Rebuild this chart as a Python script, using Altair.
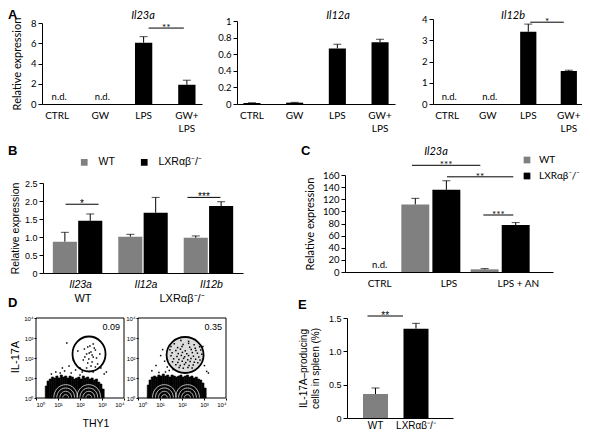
import altair as alt
import pandas as pd

# ------------------------------------------------------------------ data
A_CATS = ["CTRL", "GW", "LPS", "GW+LPS"]
A_IL23A = [0.0, 0.0, 6.05, 1.9]
A_IL23A_ERR = [0.0, 0.0, 0.6, 0.45]
A_IL23A_ND = ["n.d.", "n.d.", "", ""]
A_IL12A = [0.012, 0.016, 0.67, 0.745]
A_IL12A_ERR = [0.003, 0.004, 0.05, 0.035]
A_IL12A_ND = ["", "", "", ""]
A_IL12B = [0.0, 0.0, 3.4, 1.55]
A_IL12B_ERR = [0.0, 0.0, 0.36, 0.04]
A_IL12B_ND = ["n.d.", "n.d.", "", ""]
A_IL23A_SIG = ["LPS", "GW+LPS", 7.5, "**"]
A_IL12B_SIG = ["LPS", "GW+LPS", 3.85, "*"]

SERIES = ["WT", "LXRαβ⁻/⁻"]

B_GENES = ["Il23a", "Il12a", "Il12b"]
B_WT = [0.87, 1.01, 0.98]
B_WT_ERR = [0.26, 0.065, 0.05]
B_KO = [1.45, 1.675, 1.86]
B_KO_ERR = [0.19, 0.425, 0.12]
B_SIG_IL23A = ["Il23a", "Il23a", 1.91, "*"]
B_SIG_IL12B = ["Il12b", "Il12b", 2.10, "***"]

C_CATS = ["CTRL", "LPS", "LPS + AN"]
C_WT = [0.0, 111.5, 4.4]
C_WT_ERR = [0.0, 10.0, 1.2]
C_KO = [0.0, 135.5, 77.5]
C_KO_ERR = [0.0, 15.0, 4.0]
C_ND = ["n.d.", "", ""]
C_SIG_1 = ["LPS", "LPS + AN", 176.0, "***"]
C_SIG_2 = ["LPS", "LPS + AN", 157.0, "**"]
C_SIG_3 = ["LPS + AN", "LPS + AN", 94.0, "***"]

DECADES = [1, 10, 100, 1000, 10000]
# flow cytometry (log10 THY1, log10 IL-17A)
D_WT_DOTS = [(1.4, 2.75), (1.9, 2.35), (1.7, 1.9), (1.5, 1.6), (2.0, 1.5), (1.2, 1.5),
             (2.15, 1.9), (2.3, 2.2), (2.4, 1.95), (2.5, 2.3), (2.6, 2.05), (2.45, 2.6),
             (2.7, 2.4), (2.35, 1.75), (2.55, 1.8), (2.75, 2.0), (2.2, 2.45), (2.6, 2.7),
             (2.5, 1.6), (2.8, 1.7), (2.3, 1.5), (2.9, 2.2), (2.65, 2.5), (2.42, 2.25),
             (2.1, 1.3), (1.8, 1.4), (0.9, 1.3), (1.1, 1.25), (2.6, 1.3), (2.95, 1.5),
             (3.1, 1.2), (2.7, 1.55), (2.22, 2.05), (2.55, 2.15), (2.35, 2.55), (1.6, 1.25),
             (1.3, 1.35), (0.7, 1.2), (3.2, 1.3), (2.0, 1.15)]
D_KO_DOTS = [(1.95, 2.87), (2.3, 2.83), (1.65, 2.71), (2.05, 2.68), (2.3, 2.73), (2.55, 2.66),
             (1.5, 2.57), (1.8, 2.52), (2.0, 2.58), (2.35, 2.54), (2.6, 2.49), (2.8, 2.56),
             (1.45, 2.41), (1.72, 2.38), (1.93, 2.44), (2.15, 2.36), (2.42, 2.42), (2.63, 2.37),
             (2.85, 2.4), (1.55, 2.26), (1.83, 2.22), (2.02, 2.28), (2.22, 2.21), (2.47, 2.27),
             (2.7, 2.24), (2.9, 2.19), (1.5, 2.11), (1.77, 2.08), (1.97, 2.13), (2.12, 2.06),
             (2.3, 2.12), (2.52, 2.09), (2.76, 2.05), (1.62, 1.96), (1.86, 1.93), (2.07, 1.98),
             (2.26, 1.91), (2.41, 1.97), (2.62, 1.94), (2.82, 1.9), (1.57, 1.81), (1.81, 1.78),
             (2.01, 1.84), (2.17, 1.77), (2.37, 1.82), (2.56, 1.79), (2.72, 1.76), (1.72, 1.66),
             (1.92, 1.63), (2.11, 1.68), (2.32, 1.62), (2.51, 1.65), (1.87, 1.52), (2.06, 1.49),
             (2.27, 1.53), (2.46, 1.5), (1.03, 2.12), (1.21, 1.84), (0.82, 1.62), (1.33, 1.55),
             (1.12, 2.42), (1.42, 1.38), (0.63, 1.36), (3.02, 1.62), (3.12, 1.33), (2.95, 2.58),
             (1.25, 1.3), (0.95, 1.28), (3.2, 1.25), (1.6, 1.42)]
D_WT_EDGE_LX = [0.42, 0.5, 0.6, 0.7, 0.8, 0.9, 1.0, 1.1, 1.2, 1.3, 1.4, 1.5, 1.6, 1.7, 1.8, 1.9, 2.0,
                2.1, 2.2, 2.3, 2.4, 2.5, 2.6, 2.7, 2.8, 2.9, 3.0, 3.1]
D_WT_EDGE_LY = [0.6, 0.85, 0.95, 1.05, 1.0, 1.1, 1.0, 1.15, 1.05, 1.1, 1.0, 1.1, 1.05, 0.95, 1.0,
                1.05, 0.95, 1.1, 1.0, 1.05, 0.95, 1.0, 0.9, 0.95, 0.8, 0.7, 0.45]
D_KO_EDGE_LX = [0.42, 0.5, 0.6, 0.7, 0.8, 0.9, 1.0, 1.1, 1.2, 1.3, 1.4, 1.5, 1.6, 1.7, 1.8, 1.9, 2.0,
                2.1, 2.2, 2.3, 2.4, 2.5, 2.6, 2.7, 2.8, 2.9, 3.0, 3.1]
D_KO_EDGE_LY = [0.65, 0.9, 1.05, 1.1, 1.05, 1.15, 1.1, 1.2, 1.1, 1.15, 1.05, 1.15, 1.1, 1.05, 1.1,
                1.15, 1.05, 1.1, 1.15, 1.05, 1.1, 1.0, 1.05, 0.95, 0.9, 0.75, 0.5]
D_WT_GATE = (2.41, 2.2)
D_KO_GATE = (2.14, 2.15)
D_WT_CONTOURS = [1.35, 2.4]
D_KO_CONTOURS = [1.2, 2.25]
D_PCT = ["0.09", "0.35"]

E_CATS = SERIES
E_VAL = [0.36, 1.34]
E_ERR = [0.09, 0.08]
E_SIG = ["WT", "LXRαβ⁻/⁻", 1.53, "**"]

# ------------------------------------------------------------------ style
W, H = 574, 421
XL = "Lato"
GP = "Liberation Sans"
GREY = "#808080"


def cx(v):
    return v - 8


def cy(v):
    return v - 8


def one(text):
    return alt.Chart(alt.Data(values=[{"t": text}]))


def label(text, x, y, font, size, style="normal", weight="normal", align="center", angle=0):
    return one(text).mark_text(font=font, fontSize=size, fontStyle=style, fontWeight=weight,
                               align=align, baseline="middle", angle=angle, color="black").encode(
        x=alt.value(cx(x)), y=alt.value(cy(y)), text="t:N")


def sig_marks(sig, xs, xax, ys, yax, font, x_off, x2_off, text_dx, size=10):
    d = pd.DataFrame({"a": [sig[0]], "b": [sig[1]], "y": [sig[2]], "lab": [sig[3]]})
    X = alt.X("a:N", scale=xs, axis=xax)
    Y = alt.Y("y:Q", scale=ys, axis=yax)
    rule = alt.Chart(d).mark_rule(color="black", strokeWidth=1, xOffset=x_off, x2Offset=x2_off).encode(
        x=X, x2="b:N", y=Y)
    txt = alt.Chart(d).mark_text(font=font, fontSize=size, baseline="alphabetic", dx=text_dx, dy=3,
                                 color="black").encode(x=X, y=Y, text="lab:N")
    return [rule, txt]


def y_axis(x_img, font, size, values, title=None, fmt=None, expr=None, tpad=6, tsize=11):
    kw = dict(orient="left", offset=-cx(x_img), values=values, grid=False, tickSize=4,
              tickColor="black", domainColor="black", labelColor="black", labelFont=font,
              labelFontSize=size, labelPadding=2, title=title, titleFont=font,
              titleFontSize=tsize, titleFontWeight="normal", titleColor="black",
              titlePadding=tpad)
    if fmt:
        kw["format"] = fmt
    if expr:
        kw["labelExpr"] = expr
    return alt.Axis(**kw)


def x_axis(y_img, font, size, pad=5, **extra):
    return alt.Axis(orient="bottom", offset=cy(y_img) - H, title=None, ticks=False, grid=False,
                    labelAngle=0, domainColor="black", labelColor="black", labelFont=font,
                    labelFontSize=size, labelPadding=pad, **extra)


# ------------------------------------------------------------------ panel A
def panel_a(vals, errs, nd, sig, ax, width, y_top, ymax, yvals, ytitle, sig_off):
    df = pd.DataFrame({"cat": A_CATS, "val": vals,
                       "top": [v + e for v, e in zip(vals, errs)],
                       "nd": nd, "has_err": [e > 0 for e in errs]})
    xs = alt.Scale(domain=A_CATS, range=[cx(ax), cx(ax + width)], paddingInner=0.6, paddingOuter=0.15)
    step = width / 3.7
    xax = x_axis(104, XL, 10, pad=6, labelLineHeight=13,
                 labelExpr="datum.label == 'GW+LPS' ? ['GW+', 'LPS'] : datum.label")
    ys = alt.Scale(domain=[0, ymax], range=[cy(104), cy(y_top)], nice=False, zero=True)
    yax = y_axis(ax, XL, 9.5, yvals, title=ytitle, fmt="~g", tpad=8)
    X = alt.X("cat:N", scale=xs, axis=xax)
    base = alt.Chart(df)
    layers = [
        base.mark_bar(color="black").encode(x=X, y=alt.Y("val:Q", scale=ys, axis=yax)),
        base.transform_filter("datum.has_err").mark_rule(color="black", strokeWidth=1).encode(
            x=X, y=alt.Y("val:Q", scale=ys, axis=yax), y2="top:Q"),
        base.transform_filter("datum.has_err").mark_tick(color="black", orient="horizontal", size=8,
                                                         thickness=1).encode(
            x=X, y=alt.Y("top:Q", scale=ys, axis=yax)),
        base.mark_text(font=XL, fontSize=9.5, dy=-7, dx=2, color="black").encode(
            x=X, y=alt.Y("val:Q", scale=ys, axis=yax), text="nd:N"),
    ]
    if sig:
        layers += sig_marks(sig, xs, xax, ys, yax, XL, sig_off[0], sig_off[1],
                            step / 2 + (sig_off[0] + sig_off[1]) / 2)
    return alt.layer(*layers)


# ------------------------------------------------------------------ grouped panels
def long_df(cats, wt, wt_err, ko, ko_err):
    rows = []
    for series, vals, errs in ((SERIES[0], wt, wt_err), (SERIES[1], ko, ko_err)):
        for c, v, e in zip(cats, vals, errs):
            rows.append({"cat": c, "series": series, "val": v, "top": v + e, "has_err": e > 0})
    return pd.DataFrame(rows)


def grouped_layers(df, X, Y, Ytop, XO, color):
    base = alt.Chart(df)
    return [
        base.mark_bar().encode(x=X, xOffset=XO, y=Y, color=color),
        base.transform_filter("datum.has_err").mark_rule(color="black", strokeWidth=1).encode(
            x=X, xOffset=XO, y=Y, y2="top:Q"),
        base.transform_filter("datum.has_err").mark_tick(color="black", orient="horizontal",
                                                         size=8, thickness=1).encode(
            x=X, xOffset=XO, y=Ytop),
    ]


def panel_b():
    df = long_df(B_GENES, B_WT, B_WT_ERR, B_KO, B_KO_ERR)
    xs = alt.Scale(domain=B_GENES, range=[cx(43), cx(243)], paddingInner=0.244, paddingOuter=0.15)
    xax = x_axis(273, GP, 10.5, pad=6, labelFontStyle="italic", labelOffset=3)
    ys = alt.Scale(domain=[0, 2.5], range=[cy(273), cy(183)], nice=False)
    yax = y_axis(43, GP, 9, [0, 0.5, 1, 1.5, 2, 2.5], title="Relative expression",
                 expr="datum.value == 0 ? '0' : format(datum.value, '.1f')", tpad=4, tsize=10.5)
    X = alt.X("cat:N", scale=xs, axis=xax)
    XO = alt.XOffset("series:N", scale=alt.Scale(domain=SERIES, paddingInner=0.05))
    color = alt.Color("series:N", scale=alt.Scale(domain=SERIES, range=[GREY, "black"]),
                      legend=alt.Legend(orient="none", legendX=cx(79), legendY=cy(157),
                                        direction="horizontal", title=None, symbolType="square",
                                        symbolSize=45, symbolStrokeWidth=0, labelFont=GP,
                                        labelFontSize=10.5, labelColor="black", columnPadding=24,
                                        labelOffset=9))
    layers = grouped_layers(df, X, alt.Y("val:Q", scale=ys, axis=yax),
                            alt.Y("top:Q", scale=ys, axis=yax), XO, color)
    layers += sig_marks(B_SIG_IL23A, xs, xax, ys, yax, GP, -12, 21, 4.5)
    layers += sig_marks(B_SIG_IL12B, xs, xax, ys, yax, GP, -21, 12, -4.5)
    return alt.layer(*layers)


def panel_c():
    df = long_df(C_CATS, C_WT, C_WT_ERR, C_KO, C_KO_ERR)
    df["nd"] = [n for n in C_ND] + ["", "", ""]
    xs = alt.Scale(domain=C_CATS, range=[cx(345), cx(553)], paddingInner=0, paddingOuter=0)
    xax = x_axis(272, XL, 10, pad=6)
    ys = alt.Scale(domain=[0, 160], range=[cy(272), cy(175)], nice=False)
    yax = y_axis(345, XL, 9.5, list(range(0, 161, 20)), title="Relative expression", tpad=7)
    X = alt.X("cat:N", scale=xs, axis=xax)
    XO = alt.XOffset("series:N", scale=alt.Scale(domain=SERIES, range=[-13, 46], paddingInner=0.1))
    color = alt.Color("series:N", scale=alt.Scale(domain=SERIES, range=[GREY, "black"]),
                      legend=alt.Legend(orient="none", legendX=cx(522), legendY=cy(155),
                                        direction="vertical", title=None, symbolType="square",
                                        symbolSize=45, symbolStrokeWidth=0, labelFont=XL,
                                        labelFontSize=10, labelColor="black", rowPadding=6,
                                        labelOffset=7))
    layers = grouped_layers(df, X, alt.Y("val:Q", scale=ys, axis=yax),
                            alt.Y("top:Q", scale=ys, axis=yax), XO, color)
    layers.append(alt.Chart(df).mark_text(font=XL, fontSize=9.5, dy=-7, color="black").encode(
        x=X, y=alt.Y("val:Q", scale=ys, axis=yax), text="nd:N"))
    layers += sig_marks(C_SIG_1, xs, xax, ys, yax, XL, -37, -38, -3)
    layers += sig_marks(C_SIG_2, xs, xax, ys, yax, XL, -2, -5, 31)
    layers += sig_marks(C_SIG_3, xs, xax, ys, yax, XL, -35, -5, -20)
    return alt.layer(*layers)


def panel_e():
    df = pd.DataFrame({"cat": E_CATS, "val": E_VAL,
                       "top": [v + e for v, e in zip(E_VAL, E_ERR)]})
    xs = alt.Scale(domain=E_CATS, range=[cx(347), cx(453)], paddingInner=0.383, paddingOuter=0.5,
                   align=0.395)
    xax = x_axis(418, GP, 10, pad=2)
    ys = alt.Scale(domain=[0, 1.5], range=[cy(418), cy(318)], nice=False)
    yax = y_axis(347, GP, 9, [0, 0.5, 1, 1.5], title=["IL-17A–producing", "cells in spleen (%)"],
                 expr="datum.value == 0 ? '0' : format(datum.value, '.1f')", tpad=8, tsize=10)
    X = alt.X("cat:N", scale=xs, axis=xax)
    color = alt.Color("cat:N", scale=alt.Scale(domain=E_CATS, range=[GREY, "black"]), legend=None)
    base = alt.Chart(df)
    layers = [
        base.mark_bar().encode(x=X, y=alt.Y("val:Q", scale=ys, axis=yax), color=color),
        base.mark_rule(color="black", strokeWidth=1).encode(
            x=X, y=alt.Y("val:Q", scale=ys, axis=yax), y2="top:Q"),
        base.mark_tick(color="black", orient="horizontal", size=8, thickness=1).encode(
            x=X, y=alt.Y("top:Q", scale=ys, axis=yax)),
    ]
    layers += sig_marks(E_SIG, xs, xax, ys, yax, GP, -8, -13, 9.75)
    return alt.layer(*layers)


# ------------------------------------------------------------------ panel D
def ellipse(rx, ry):
    return f"M{-rx},0 A{rx},{ry} 0 1,1 {rx},0 A{rx},{ry} 0 1,1 {-rx},0 Z"


ARCH = "M-1,0.05 C-1,-1.5 1,-1.5 1,0.05"


def panel_d(x0, dots, edge_lx, edge_ly, gate, gate_shape, gate_size, contours, dense):
    xs = alt.Scale(type="log", domain=[1, 10000], range=[cx(x0), cx(x0 + 88)], nice=False)
    ys = alt.Scale(type="log", domain=[1, 10000], range=[cy(398), cy(318)], nice=False)
    lab = "'10' + ['⁰','¹','²','³','⁴'][round(log(datum.value) / LN10)]"
    common = dict(values=DECADES, labelExpr=lab, title=None, grid=False, domain=False, tickSize=2,
                  tickColor="black", labelFont=GP, labelFontSize=6, labelColor="black",
                  labelPadding=1)
    xax = alt.Axis(orient="bottom", offset=cy(398) - H, **common)
    yax = alt.Axis(orient="left", offset=-cx(x0), **common)
    X = lambda f: alt.X(f, type="quantitative", scale=xs, axis=xax)
    Y = lambda f: alt.Y(f, type="quantitative", scale=ys, axis=yax)

    ddots = pd.DataFrame({"x": [10 ** p[0] for p in dots], "y": [10 ** p[1] for p in dots]})
    dedge = pd.DataFrame({"x": [10 ** v for v in edge_lx[:-1]], "x2": [10 ** v for v in edge_lx[1:]],
                          "y": [10 ** v for v in edge_ly], "y0": [1] * len(edge_ly)})
    dgate = pd.DataFrame({"x": [10 ** gate[0]], "y": [10 ** gate[1]]})
    dcont = pd.DataFrame({"x": [10 ** v for v in contours], "y": [1] * len(contours)})
    dframe = pd.DataFrame({"x": [1], "x2": [10000], "y": [1], "y2": [10000]})

    layers = [
        alt.Chart(dedge).mark_rect(color="black", opacity=1, stroke="black", strokeWidth=0.6).encode(
            x=X("x"), x2="x2:Q", y=Y("y"), y2="y0:Q"),
    ]
    for w in (24, 18, 12, 6):
        layers.append(alt.Chart(dcont).mark_point(shape=ARCH, size=w * w, filled=False,
                                                   color="white", strokeWidth=0.7, opacity=1).encode(
            x=X("x"), y=Y("y")))
    if dense:
        layers.append(alt.Chart(dgate).mark_point(shape=gate_shape, size=gate_size, filled=True,
                                                   color="#a8a8a8", opacity=0.4, strokeWidth=0).encode(
            x=X("x"), y=Y("y")))
    layers += [
        alt.Chart(ddots).mark_square(size=2.2, color="black", opacity=1).encode(x=X("x"), y=Y("y")),
        alt.Chart(dgate).mark_point(shape=gate_shape, size=gate_size, filled=False, color="black",
                                    strokeWidth=1.8, opacity=1).encode(x=X("x"), y=Y("y")),
        alt.Chart(dframe).mark_rect(fillOpacity=0, stroke="black", strokeWidth=1).encode(
            x=X("x"), x2="x2:Q", y=Y("y"), y2="y2:Q"),
    ]
    return alt.layer(*layers)


# ------------------------------------------------------------------ annotations
annotations = [
    label("A", 8, 15, GP, 13, weight="bold", align="left"),
    label("B", 8, 151, GP, 13, weight="bold", align="left"),
    label("C", 301, 151, GP, 13, weight="bold", align="left"),
    label("D", 8, 303, GP, 13, weight="bold", align="left"),
    label("E", 298, 305, GP, 13, weight="bold", align="left"),
    label("Il23a", 143, 15.5, XL, 11, style="italic"),
    label("Il12a", 338, 15.5, XL, 11, style="italic"),
    label("Il12b", 513, 15.5, XL, 11, style="italic"),
    label("Il23a", 436, 152, XL, 11, style="italic"),
    label("WT", 83, 299, GP, 11),
    label(SERIES[1], 182, 299, GP, 11),
    label(D_PCT[0], 120, 327, GP, 9, align="right"),
    label(D_PCT[1], 222, 327, GP, 9, align="right"),
    label("IL-17A", 16, 357, GP, 11, angle=270),
    label("THY1", 96, 424, GP, 10.5),
]

panels = [
    panel_a(A_IL23A, A_IL23A_ERR, A_IL23A_ND, A_IL23A_SIG, 42, 160, 23, 8, [0, 2, 4, 6, 8],
            "Relative expression", (5, -3)),
    panel_a(A_IL12A, A_IL12A_ERR, A_IL12A_ND, None, 237, 158, 21, 1, [0, 0.2, 0.4, 0.6, 0.8, 1],
            None, (0, 0)),
    panel_a(A_IL12B, A_IL12B_ERR, A_IL12B_ND, A_IL12B_SIG, 433, 150, 19, 4, [0, 1, 2, 3, 4],
            None, (2, -5)),
    panel_b(),
    panel_c(),
    panel_d(36, D_WT_DOTS, D_WT_EDGE_LX, D_WT_EDGE_LY, D_WT_GATE, ellipse(0.944, 1), 1225,
            D_WT_CONTOURS, False),
    panel_d(138, D_KO_DOTS, D_KO_EDGE_LX, D_KO_EDGE_LY, D_KO_GATE, ellipse(1, 0.973), 1369,
            D_KO_CONTOURS, True),
    panel_e(),
]

chart = alt.layer(*panels, *annotations).resolve_scale(
    x="independent", y="independent", color="independent", xOffset="independent"
).resolve_axis(x="independent", y="independent").resolve_legend(color="independent").properties(
    width=W, height=H, padding=0, autosize=alt.AutoSizeParams(type="none"), background="white"
).configure_view(strokeWidth=0)

chart.save("out.html", embed_options={"renderer": "svg", "actions": False})
